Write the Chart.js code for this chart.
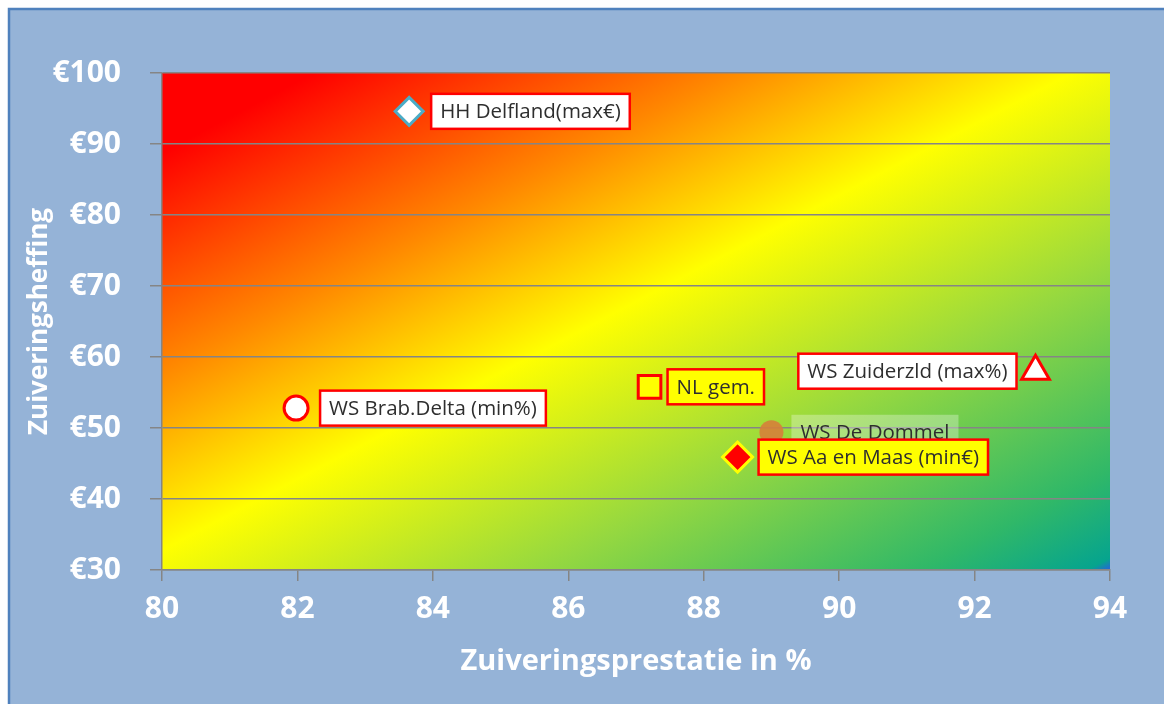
<!DOCTYPE html>
<html>
<head>
<meta charset="utf-8">
<script src="https://cdn.jsdelivr.net/npm/chart.js@4.4.0/dist/chart.umd.min.js"></script>
<style>
  html, body { margin: 0; padding: 0; background: #fff; }
  canvas { display: block; }
</style>
</head>
<body>
<canvas id="zuiveringChart" width="1164" height="704"></canvas>
<script>
// gegevens
const names = ["WS De Dommel", "HH Delfland(max€)", "WS Brab.Delta (min%)", "NL gem.", "WS Zuiderzld (max%)", "WS Aa en Maas (min€)"];
const prestatie = [89.0, 83.65, 81.98, 87.2, 92.9, 88.5];
const heffing = [49.4, 94.6, 52.8, 55.8, 58.0, 45.9];
const xTicks = [80, 82, 84, 86, 88, 90, 92, 94];
const yTicks = [30, 40, 50, 60, 70, 80, 90, 100];

// opmaak per punt
const looks = [
  { style: "circle", r: 12, fill: "rgba(214,128,58,0.9)", border: "rgba(0,0,0,0)", bw: 0, box: "rgba(255,255,255,0.3)", edge: null, dx: 20, side: "right" },
  { style: "rectRot", r: 14, fill: "#ffffff", border: "#4BACC6", bw: 3, box: "#ffffff", edge: "#ff0000", dx: 22, side: "right" },
  { style: "circle", r: 12, fill: "#ffffff", border: "#ff0000", bw: 3, box: "#ffffff", edge: "#ff0000", dx: 24, side: "right" },
  { style: "rect", r: 16, fill: "#ffff00", border: "#ff0000", bw: 3, box: "#ffff00", edge: "#ff0000", dx: 18, side: "right" },
  { style: "triangle", r: 16, fill: "#ffffff", border: "#ff0000", bw: 3, box: "#ffffff", edge: "#ff0000", dx: 19, side: "left" },
  { style: "rectRot", r: 15, fill: "#ff0000", border: "#ffff00", bw: 3, box: "#ffff00", edge: "#ff0000", dx: 21, side: "right" }
];

const datasets = names.map((n, i) => ({
  label: n,
  data: [{ x: prestatie[i], y: heffing[i] }],
  pointStyle: looks[i].style,
  pointRadius: looks[i].r,
  backgroundColor: looks[i].fill,
  borderColor: looks[i].border,
  pointBorderWidth: looks[i].bw,
  showLine: false
}));

const gridGray = "#858585";
const labelFont = "20.5px 'Open Sans'";

const framePlugin = {
  id: "frame",
  beforeDraw(chart) {
    const ctx = chart.ctx;
    const a = chart.chartArea;
    ctx.save();
    ctx.fillStyle = "#ffffff";
    ctx.fillRect(0, 0, chart.width, chart.height);
    ctx.fillStyle = "#95B3D7";
    ctx.fillRect(9, 9, chart.width, chart.height);
    ctx.strokeStyle = "#4F81BD";
    ctx.lineWidth = 2.5;
    ctx.beginPath();
    ctx.moveTo(9, chart.height);
    ctx.lineTo(9, 9);
    ctx.lineTo(chart.width, 9);
    ctx.stroke();

    // diagonale kleurverloop in het plotgebied
    const W = a.right - a.left, H = a.bottom - a.top;
    const cx = (a.left + a.right) / 2, cy = (a.top + a.bottom) / 2;
    const len = Math.sqrt(W * W + H * H);
    const L = W * H / len;
    const dx = H / len * L, dy = W / len * L;
    const g = ctx.createLinearGradient(cx - dx, cy - dy, cx + dx, cy + dy);
    g.addColorStop(0, "#ff0000");
    g.addColorStop(0.08, "#ff0000");
    g.addColorStop(0.3, "#ff8800");
    g.addColorStop(0.48, "#ffff00");
    g.addColorStop(0.7, "#95d840");
    g.addColorStop(0.9, "#30b868");
    g.addColorStop(0.988, "#06a48e");
    g.addColorStop(1, "#2a5fe0");
    ctx.fillStyle = g;
    ctx.fillRect(a.left, a.top, W, H);
    ctx.restore();
  }
};

const labelPlugin = {
  id: "pointLabels",
  afterDatasetsDraw(chart) {
    const ctx = chart.ctx;
    ctx.save();
    ctx.font = labelFont;
    ctx.textBaseline = "middle";
    names.forEach((n, i) => {
      const pt = chart.getDatasetMeta(i).data[0];
      const lk = looks[i];
      const tw = ctx.measureText(n).width;
      const bw = tw + 18, bh = 35;
      const left = lk.side === "right" ? pt.x + lk.dx : pt.x - lk.dx - bw;
      const top = pt.y - bh / 2;
      ctx.fillStyle = lk.box;
      ctx.fillRect(left, top, bw, bh);
      if (lk.edge) {
        ctx.strokeStyle = lk.edge;
        ctx.lineWidth = 2.5;
        ctx.strokeRect(left, top, bw, bh);
      }
      ctx.fillStyle = "#2e2e2e";
      ctx.textAlign = "left";
      ctx.fillText(n, left + 9, pt.y + 1);
    });
    ctx.restore();
  }
};

new Chart(document.getElementById("zuiveringChart"), {
  type: "scatter",
  data: { datasets: datasets },
  plugins: [framePlugin, labelPlugin],
  options: {
    responsive: false,
    animation: false,
    layout: { padding: { left: 0, top: 73, right: 54, bottom: 0 } },
    plugins: {
      legend: { display: false },
      tooltip: { enabled: false }
    },
    scales: {
      x: {
        type: "linear",
        min: xTicks[0],
        max: xTicks[xTicks.length - 1],
        afterBuildTicks: (s) => { s.ticks = xTicks.map(v => ({ value: v })); },
        afterFit: (s) => { s.height = 134; },
        ticks: {
          color: "#ffffff",
          font: { family: "'Open Sans'", size: 30, weight: "bold" },
          padding: 10
        },
        grid: { drawOnChartArea: false, drawTicks: true, tickLength: 11, color: gridGray, lineWidth: 1.5 },
        border: { color: gridGray, width: 1.5 },
        title: {
          display: true,
          text: "Zuiveringsprestatie in %",
          color: "#ffffff",
          font: { family: "'Open Sans'", size: 29, weight: "bold" },
          padding: { top: 0, bottom: 25 }
        }
      },
      y: {
        type: "linear",
        min: yTicks[0],
        max: yTicks[yTicks.length - 1],
        afterBuildTicks: (s) => { s.ticks = yTicks.map(v => ({ value: v })); },
        afterFit: (s) => { s.width = 162; },
        ticks: {
          color: "#ffffff",
          font: { family: "'Open Sans'", size: 30, weight: "bold" },
          padding: 29,
          callback: (v) => "€" + v
        },
        grid: { color: gridGray, lineWidth: 1.5, tickLength: 12 },
        border: { color: gridGray, width: 1.5 },
        title: {
          display: true,
          text: "Zuiveringsheffing",
          color: "#ffffff",
          font: { family: "'Open Sans'", size: 26, weight: "bold" },
          padding: { top: 24, bottom: 0 }
        }
      }
    }
  }
});
</script>
</body>
</html>
